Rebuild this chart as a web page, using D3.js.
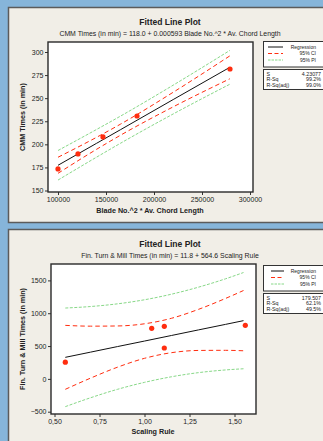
<!DOCTYPE html>
<html>
<head>
<meta charset="utf-8">
<script src="https://cdn.jsdelivr.net/npm/d3@7"></script>
<style>
  html, body { margin: 0; padding: 0; background: #86b5da; }
  svg { display: block; }
  text { font-family: "Liberation Sans", Arial, sans-serif; fill: #222; }
</style>
</head>
<body>
<svg id="chart" width="323" height="441"></svg>
<script>
// ---- panel 1 : CMM times ----
const cmmPtsX = [100000, 120833, 146875, 182292, 279167];
const cmmPtsY = [173.4, 189.6, 208.0, 230.7, 281.6];
const cmmLineX = [100000, 140000, 165000, 220000, 279000];
const cmmFit = [177.3, 201.0, 215.8, 248.5, 283.4];
const cmmCIup = [186.0, 207.5, 221.8, 256.4, 295.8];
const cmmCIlo = [168.6, 194.5, 209.8, 240.6, 271.0];
const cmmPIup = [193.3, 216.0, 230.5, 264.1, 301.7];
const cmmPIlo = [161.3, 186.0, 201.1, 232.9, 265.1];
const cmmXTicks = [100000, 150000, 200000, 250000, 300000];
const cmmYTicks = [150, 175, 200, 225, 250, 275, 300];
const cmmStats = [["S", "4.23077"], ["R-Sq", "99.2%"], ["R-Sq(adj)", "99.0%"]];

// ---- panel 2 : finish turn & mill times ----
const finPtsX = [0.56, 1.04, 1.11, 1.11, 1.56];
const finPtsY = [255, 770, 800, 470, 815];
const finLineX = [0.56, 0.70, 0.85, 1.00, 1.15, 1.30, 1.45, 1.55];
const finFit = [328, 407, 492, 576, 661, 746, 830, 887];
const finCIup = [815, 803, 806, 839, 923, 1059, 1225, 1346];
const finCIlo = [-159, 11, 178, 313, 399, 433, 435, 428];
const finPIup = [1079, 1102, 1143, 1205, 1290, 1397, 1524, 1620];
const finPIlo = [-423, -288, -159, -53, 32, 95, 136, 154];
const finXTicks = [0.5, 0.75, 1.0, 1.25, 1.5];
const finYTicks = [-500, 0, 500, 1000, 1500];
const finStats = [["S", "179.507"], ["R-Sq", "62.1%"], ["R-Sq(adj)", "49.5%"]];

const legendItems = ["Regression", "95% CI", "95% PI"];

const svg = d3.select("#chart");
const RED = "#ff2d0f", GREEN = "#88d888";

function drawPanel(o) {
  const g = svg.append("g");

  // panel background
  g.append("rect")
    .attr("x", 8.5).attr("y", o.top + 0.5)
    .attr("width", 330).attr("height", o.height)
    .attr("fill", "#f1eee7").attr("stroke", "#5b5b5b").attr("stroke-width", 1.5);

  // titles
  g.append("text").attr("x", 170).attr("y", o.top + 18)
    .attr("text-anchor", "middle").style("font-size", "8.5px").style("font-weight", "bold")
    .text("Fitted Line Plot");
  g.append("text").attr("x", 170).attr("y", o.top + 28.5)
    .attr("text-anchor", "middle").style("font-size", "6.9px").style("fill", "#222")
    .text(o.subtitle);

  const x = d3.scaleLinear().domain(o.xDom).range(o.xRange);
  const y = d3.scaleLinear().domain(o.yDom).range(o.yRange);
  const p = o.plot;

  g.append("rect")
    .attr("x", p.left).attr("y", p.top)
    .attr("width", p.right - p.left).attr("height", p.bottom - p.top)
    .attr("fill", "#fff");

  // axes
  const xAxis = g.append("g")
    .attr("transform", "translate(0," + p.bottom + ")")
    .call(d3.axisBottom(x).tickValues(o.xTicks).tickSize(3).tickPadding(2).tickFormat(o.xFmt));
  const yAxis = g.append("g")
    .attr("transform", "translate(" + p.left + ",0)")
    .call(d3.axisLeft(y).tickValues(o.yTicks).tickSize(3).tickPadding(1.5).tickFormat(o.yFmt));
  [xAxis, yAxis].forEach(a => {
    a.select(".domain").remove();
    a.selectAll("line").attr("stroke", "#333");
    a.selectAll("text").style("font-size", "7px").attr("fill", "#333");
  });

  // lines
  const line = d3.line().x(d => x(d[0])).y(d => y(d[1])).curve(d3.curveMonotoneX);
  const clip = "clip" + o.id;
  g.append("clipPath").attr("id", clip).append("rect")
    .attr("x", p.left).attr("y", p.top)
    .attr("width", p.right - p.left).attr("height", p.bottom - p.top);
  const lg = g.append("g").attr("clip-path", "url(#" + clip + ")");
  const zip = ys => o.lineX.map((v, i) => [v, ys[i]]);

  [o.piUp, o.piLo].forEach(s => lg.append("path").attr("d", line(zip(s)))
    .attr("fill", "none").attr("stroke", GREEN).attr("stroke-width", 1).attr("stroke-dasharray", "3,1.5"));
  [o.ciUp, o.ciLo].forEach(s => lg.append("path").attr("d", line(zip(s)))
    .attr("fill", "none").attr("stroke", RED).attr("stroke-width", 1).attr("stroke-dasharray", "4.5,3"));
  lg.append("path").attr("d", line(zip(o.fit)))
    .attr("fill", "none").attr("stroke", "#111").attr("stroke-width", 1);

  lg.selectAll("circle").data(o.ptsX).enter().append("circle")
    .attr("cx", d => x(d)).attr("cy", (d, i) => y(o.ptsY[i]))
    .attr("r", 2.6).attr("fill", RED);

  // frame
  g.append("rect")
    .attr("x", p.left).attr("y", p.top)
    .attr("width", p.right - p.left).attr("height", p.bottom - p.top)
    .attr("fill", "none").attr("stroke", "#2a2a2a").attr("stroke-width", 1.4);

  // axis titles
  g.append("text").attr("x", o.xTitleX).attr("y", o.xTitleY)
    .attr("text-anchor", "middle").style("font-size", "7.2px").style("font-weight", "bold")
    .text(o.xTitle);
  g.append("text")
    .attr("transform", "translate(" + o.yTitleX + "," + ((p.top + p.bottom) / 2) + ") rotate(-90)")
    .attr("text-anchor", "middle").style("font-size", "7.2px").style("font-weight", "bold")
    .text(o.yTitle);

  // legend box
  const L = o.legend;
  g.append("rect").attr("x", 263.5).attr("y", L.top + 0.5).attr("width", 70).attr("height", 25.5)
    .attr("fill", "#fff").attr("stroke", "#333").attr("stroke-width", 1);
  const styles = [["#111", null], [RED, "4,2.5"], [GREEN, "2.5,1"]];
  legendItems.forEach((name, i) => {
    const yy = L.top + 6 + i * 6.5;
    g.append("line").attr("x1", L.lx1).attr("x2", L.lx2).attr("y1", yy).attr("y2", yy)
      .attr("stroke", styles[i][0]).attr("stroke-width", 1)
      .attr("stroke-dasharray", styles[i][1]);
    g.append("text").attr("x", 316).attr("y", yy + 1.8)
      .attr("text-anchor", "end").style("font-size", "5px").text(name);
  });

  // stats box
  g.append("rect").attr("x", 263.5).attr("y", L.top + 28.5).attr("width", 70).attr("height", 20)
    .attr("fill", "#fff").attr("stroke", "#333").attr("stroke-width", 1);
  o.stats.forEach((s, i) => {
    const yy = L.top + 34.5 + i * 5.6;
    g.append("text").attr("x", 266.5).attr("y", yy).style("font-size", "5.3px").text(s[0]);
    g.append("text").attr("x", 321).attr("y", yy).attr("text-anchor", "end")
      .style("font-size", "5.3px").text(s[1]);
  });
}

const commaFmt = d => d3.format(".2f")(d).replace(".", ",");

drawPanel({
  id: 1, top: 7, height: 215,
  subtitle: "CMM Times (in min) =  118.0 + 0.000593 Blade No.^2 * Av. Chord Length",
  plot: { left: 48, right: 253, top: 42, bottom: 192 },
  xDom: [100000, 300000], xRange: [58, 250],
  yDom: [150, 300], yRange: [190.5, 52],
  xTicks: cmmXTicks, yTicks: cmmYTicks,
  xFmt: d3.format("d"), yFmt: d3.format("d"),
  ptsX: cmmPtsX, ptsY: cmmPtsY, lineX: cmmLineX,
  fit: cmmFit, ciUp: cmmCIup, ciLo: cmmCIlo, piUp: cmmPIup, piLo: cmmPIlo,
  xTitle: "Blade No.^2 * Av. Chord Length", xTitleX: 150, xTitleY: 213,
  yTitle: "CMM Times (in min)", yTitleX: 25,
  legend: { top: 41, lx1: 268, lx2: 283 },
  stats: cmmStats
});

drawPanel({
  id: 2, top: 229, height: 215,
  subtitle: "Fin. Turn & Mill Times (in min) =  11.8 + 564.6 Scaling Rule",
  plot: { left: 51, right: 256, top: 264, bottom: 414 },
  xDom: [0.5, 1.5], xRange: [54.5, 234.5],
  yDom: [-500, 1500], yRange: [411.7, 280.4],
  xTicks: finXTicks, yTicks: finYTicks,
  xFmt: commaFmt, yFmt: d3.format("d"),
  ptsX: finPtsX, ptsY: finPtsY, lineX: finLineX,
  fit: finFit, ciUp: finCIup, ciLo: finCIlo, piUp: finPIup, piLo: finPIlo,
  xTitle: "Scaling Rule", xTitleX: 153, xTitleY: 434,
  yTitle: "Fin. Turn & Mill Times (in min)", yTitleX: 25,
  legend: { top: 265, lx1: 271, lx2: 284 },
  stats: finStats
});
</script>
</body>
</html>
